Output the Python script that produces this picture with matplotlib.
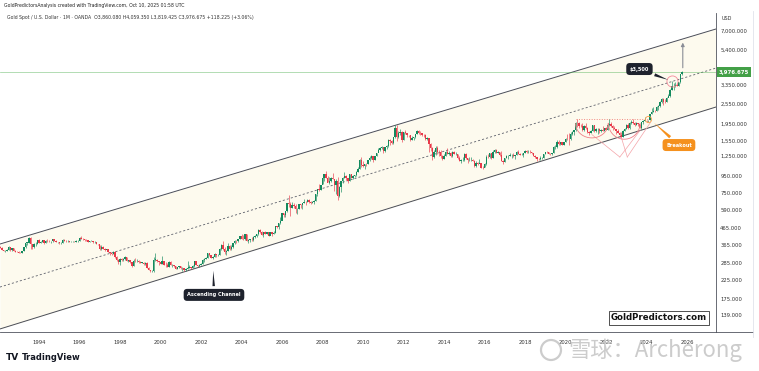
import numpy as np
import matplotlib.pyplot as plt
from matplotlib.patches import Ellipse
from matplotlib.lines import Line2D
from matplotlib.transforms import blended_transform_factory

W, H = 759, 371

# monthly candles, Jan 1992 .. Oct 2025 (USD / oz)
first_open = 353.0
close = [
    354, 353, 341, 337, 337, 343, 357, 340, 349, 339, 334, 333,
    330, 328, 337, 354, 378, 378, 401, 372, 355, 369, 371, 391,
    378, 381, 392, 377, 388, 386, 385, 386, 395, 389, 383, 383,
    375, 376, 392, 389, 385, 387, 383, 383, 384, 383, 387, 387,
    405, 400, 396, 392, 390, 382, 385, 387, 379, 379, 371, 369,
    345, 358, 348, 340, 345, 334, 326, 325, 332, 311, 296, 290,
    303, 297, 301, 310, 293, 296, 288, 273, 293, 292, 294, 288,
    287, 287, 280, 286, 268, 261, 255, 255, 299, 299, 292, 290,
    283, 293, 278, 276, 272, 288, 276, 278, 273, 264, 270, 274,
    265, 267, 258, 264, 267, 271, 266, 273, 293, 279, 275, 279,
    282, 297, 302, 308, 326, 318, 304, 312, 324, 317, 319, 347,
    368, 347, 334, 336, 361, 346, 354, 375, 388, 386, 398, 416,
    400, 396, 424, 388, 394, 394, 391, 407, 416, 428, 453, 438,
    422, 435, 428, 435, 417, 435, 429, 433, 473, 470, 495, 513,
    568, 556, 583, 654, 643, 614, 633, 623, 599, 604, 646, 632,
    650, 665, 661, 680, 659, 650, 666, 673, 742, 789, 783, 834,
    923, 971, 916, 865, 885, 928, 913, 833, 884, 718, 815, 882,
    928, 942, 916, 884, 979, 927, 954, 955, 1001, 1040, 1182, 1096,
    1081, 1117, 1113, 1180, 1213, 1244, 1181, 1247, 1307, 1357, 1386, 1421,
    1332, 1410, 1439, 1556, 1536, 1500, 1628, 1826, 1620, 1722, 1746, 1565,
    1737, 1711, 1669, 1664, 1561, 1604, 1614, 1692, 1773, 1719, 1712, 1675,
    1663, 1578, 1596, 1472, 1393, 1234, 1313, 1396, 1327, 1323, 1250, 1202,
    1244, 1326, 1284, 1296, 1250, 1327, 1282, 1287, 1210, 1171, 1183, 1184,
    1283, 1212, 1183, 1183, 1190, 1172, 1095, 1133, 1115, 1142, 1065, 1061,
    1118, 1238, 1233, 1293, 1215, 1322, 1350, 1309, 1316, 1273, 1173, 1152,
    1211, 1249, 1249, 1268, 1269, 1242, 1269, 1322, 1280, 1271, 1275, 1303,
    1345, 1318, 1325, 1315, 1299, 1253, 1224, 1201, 1192, 1215, 1222, 1282,
    1321, 1313, 1292, 1284, 1305, 1409, 1413, 1520, 1472, 1513, 1463, 1517,
    1589, 1585, 1577, 1686, 1730, 1781, 1975, 1967, 1886, 1879, 1776, 1898,
    1847, 1734, 1708, 1769, 1906, 1770, 1814, 1814, 1757, 1783, 1774, 1829,
    1796, 1909, 1937, 1897, 1837, 1807, 1766, 1711, 1660, 1633, 1768, 1824,
    1928, 1827, 1969, 1990, 1962, 1919, 1965, 1940, 1849, 1984, 2036, 2063,
    2039, 2044, 2230, 2286, 2327, 2326, 2447, 2503, 2634, 2744, 2643, 2625,
    2798, 2858, 3123, 3289, 3289, 3303, 3290, 3448, 3858, 3976.675,
]
high = [
    361, 360, 355, 343, 341, 345, 363, 358, 353, 350, 342, 338,
    335, 333, 338, 357, 378, 383, 410, 407, 370, 374, 382, 393,
    396, 387, 394, 393, 390, 396, 391, 388, 397, 398, 392, 384,
    383, 380, 395, 395, 392, 391, 389, 388, 389, 388, 391, 390,
    409, 416, 402, 397, 395, 391, 387, 392, 388, 388, 384, 372,
    368, 365, 359, 349, 347, 346, 334, 330, 337, 335, 313, 301,
    305, 305, 304, 314, 310, 299, 299, 288, 301, 306, 300, 297,
    293, 291, 291, 289, 290, 269, 261, 260, 310, 326, 302, 292,
    291, 313, 293, 290, 284, 294, 292, 280, 277, 275, 272, 275,
    274, 269, 268, 265, 292, 279, 272, 276, 293, 294, 278, 281,
    284, 302, 304, 309, 327, 328, 321, 316, 326, 323, 324, 349,
    373, 389, 356, 340, 378, 364, 366, 376, 393, 394, 399, 417,
    427, 420, 427, 428, 396, 398, 409, 416, 419, 428, 456, 457,
    443, 437, 445, 438, 438, 441, 432, 446, 474, 476, 496, 539,
    570, 573, 588, 654, 730, 659, 664, 651, 640, 610, 646, 648,
    655, 690, 671, 692, 691, 672, 673, 680, 744, 790, 845, 836,
    936, 975, 1012, 946, 937, 935, 988, 914, 906, 936, 825, 880,
    931, 1006, 963, 919, 980, 981, 963, 965, 1018, 1071, 1195, 1227,
    1162, 1126, 1135, 1180, 1249, 1265, 1238, 1252, 1310, 1388, 1424, 1431,
    1424, 1413, 1448, 1575, 1577, 1556, 1632, 1911, 1921, 1760, 1802, 1764,
    1741, 1791, 1714, 1678, 1667, 1640, 1624, 1692, 1790, 1795, 1754, 1726,
    1694, 1683, 1617, 1594, 1487, 1414, 1348, 1434, 1434, 1362, 1362, 1268,
    1280, 1332, 1392, 1331, 1315, 1332, 1345, 1311, 1290, 1255, 1205, 1238,
    1307, 1293, 1222, 1224, 1232, 1205, 1175, 1170, 1157, 1191, 1142, 1088,
    1127, 1263, 1284, 1306, 1303, 1362, 1375, 1367, 1338, 1317, 1337, 1180,
    1220, 1264, 1261, 1295, 1276, 1296, 1270, 1330, 1357, 1306, 1300, 1306,
    1366, 1361, 1356, 1365, 1326, 1310, 1266, 1221, 1214, 1243, 1237, 1284,
    1326, 1347, 1324, 1303, 1306, 1439, 1453, 1555, 1557, 1518, 1516, 1525,
    1611, 1689, 1704, 1747, 1765, 1789, 1984, 2075, 1992, 1933, 1966, 1906,
    1959, 1872, 1755, 1798, 1913, 1917, 1832, 1834, 1836, 1813, 1877, 1831,
    1853, 1974, 2070, 1998, 1910, 1879, 1814, 1807, 1735, 1729, 1786, 1833,
    1949, 1959, 2009, 2048, 2079, 1983, 1987, 1966, 1953, 2009, 2052, 2135,
    2065, 2052, 2236, 2431, 2450, 2369, 2483, 2531, 2685, 2790, 2761, 2726,
    2817, 2956, 3128, 3500, 3435, 3452, 3439, 3453, 3871, 4059.35,
]
low = [
    350, 350, 340, 335, 333, 336, 342, 336, 339, 337, 331, 332,
    326, 326, 326, 336, 353, 368, 378, 345, 347, 352, 361, 370,
    375, 376, 381, 370, 374, 381, 380, 374, 384, 387, 379, 374,
    372, 373, 376, 387, 383, 382, 382, 380, 381, 381, 382, 384,
    387, 397, 394, 389, 389, 380, 379, 385, 378, 377, 372, 367,
    341, 341, 347, 336, 339, 334, 318, 319, 322, 305, 293, 283,
    278, 293, 294, 299, 292, 291, 286, 271, 273, 290, 290, 286,
    285, 286, 278, 278, 267, 259, 252, 252, 253, 294, 290, 279,
    281, 283, 276, 272, 270, 271, 276, 271, 270, 263, 263, 268,
    262, 256, 256, 256, 264, 265, 264, 265, 271, 276, 270, 272,
    277, 283, 290, 300, 305, 313, 304, 302, 312, 312, 315, 318,
    342, 344, 322, 321, 336, 340, 343, 351, 371, 374, 380, 397,
    398, 394, 394, 385, 377, 384, 385, 389, 402, 411, 423, 431,
    418, 410, 424, 425, 415, 419, 417, 429, 431, 460, 456, 490,
    516, 538, 538, 581, 618, 543, 611, 613, 573, 561, 605, 609,
    603, 650, 637, 661, 653, 641, 649, 642, 671, 722, 775, 779,
    846, 884, 917, 867, 850, 874, 907, 775, 739, 681, 708, 758,
    857, 916, 899, 866, 883, 917, 908, 934, 952, 1002, 1043, 1075,
    1074, 1044, 1086, 1114, 1162, 1203, 1157, 1182, 1243, 1325, 1331, 1373,
    1308, 1328, 1381, 1418, 1462, 1478, 1479, 1602, 1535, 1602, 1668, 1523,
    1564, 1690, 1628, 1627, 1527, 1564, 1560, 1598, 1685, 1693, 1672, 1635,
    1627, 1555, 1562, 1322, 1338, 1180, 1207, 1271, 1291, 1251, 1221, 1182,
    1202, 1243, 1277, 1268, 1240, 1240, 1281, 1272, 1206, 1161, 1132, 1170,
    1167, 1198, 1142, 1172, 1170, 1162, 1077, 1080, 1098, 1136, 1053, 1046,
    1071, 1111, 1208, 1209, 1200, 1208, 1310, 1301, 1302, 1241, 1171, 1123,
    1146, 1208, 1194, 1243, 1215, 1237, 1204, 1266, 1278, 1261, 1262, 1236,
    1302, 1307, 1303, 1301, 1281, 1250, 1211, 1160, 1180, 1183, 1196, 1221,
    1276, 1310, 1281, 1266, 1267, 1301, 1382, 1400, 1459, 1458, 1445, 1454,
    1517, 1564, 1451, 1568, 1670, 1671, 1757, 1863, 1848, 1859, 1765, 1775,
    1803, 1717, 1677, 1705, 1766, 1750, 1750, 1687, 1722, 1746, 1758, 1753,
    1780, 1780, 1890, 1872, 1787, 1805, 1681, 1709, 1615, 1617, 1616, 1765,
    1823, 1804, 1809, 1950, 1932, 1893, 1903, 1884, 1846, 1810, 1931, 2016,
    2002, 1984, 2039, 2228, 2277, 2286, 2319, 2364, 2472, 2604, 2537, 2583,
    2615, 2833, 2833, 3121, 3121, 3248, 3268, 3269, 3403, 3819.425,
]

# ascending channel (start / end of the drawn lines)
chan_t = [1992.07, 2027.43]
chan_upper = [371, 7200]
chan_lower = [115, 2455]
chan_mid = [205, 4200]

last_price = 3976.675
yticks = [7000, 5400, 3350, 2550, 1950, 1550, 1250, 950, 750, 590, 465, 365, 285, 225, 175, 139]
xyears = list(range(1994, 2027, 2))

close = np.array(close, float)
high = np.array(high, float)
low = np.array(low, float)
opn = np.r_[first_open, close[:-1]]
t = 1992 + np.arange(len(close)) / 12.0

fig = plt.figure(figsize=(W / 100, H / 100), dpi=100)
fig.patch.set_facecolor('white')

def fx(px):
    return px / W

def fy(py):
    return 1 - py / H

ax = fig.add_axes([0, fy(332), 716 / W, (332 - 13) / H])
ax.set_yscale('log')
ax.set_xlim(1992.074, 2027.43)
ax.set_ylim(110.3, 8975)
ax.set_facecolor('white')

# channel
ax.fill_between(chan_t, chan_lower, chan_upper, color='#fdfaee', zorder=0, lw=0)
ax.plot(chan_t, chan_upper, color='#4a4d57', lw=0.7, zorder=1)
ax.plot(chan_t, chan_lower, color='#4a4d57', lw=0.7, zorder=1)
ax.plot(chan_t, chan_mid, color='#5d606b', lw=0.6, ls=(0, (2.5, 2.5)), zorder=1)

# last price line
ax.axhline(last_price, color='#4caf50', lw=0.5, alpha=0.6, zorder=1)

# candles
up = close >= opn
cols = np.where(up, '#138a5e', '#e8394a')
ax.vlines(t, low, high, colors=cols, lw=0.45, zorder=3)
body_lo = np.minimum(opn, close)
body_hi = np.maximum(opn, close)
body_hi = np.maximum(body_hi, body_lo * 1.003)
ax.bar(t, body_hi - body_lo, bottom=body_lo, width=0.07, color=cols, lw=0, zorder=4)

# pattern drawings (cup arcs and fan lines)
pink = '#f4a3a8'
ax.plot([2020.5, 2024.2], [2080, 2080], color='#f28b82', lw=0.7, ls=(0, (1, 1.6)), zorder=2)
th = np.linspace(0, np.pi, 40)
for cx, rx, top, depth in [(2021.3, 0.8, 1950, 0.085), (2022.9, 0.78, 1960, 0.095)]:
    ax.plot(cx + rx * np.cos(th), top * 10 ** (-depth * np.sin(th)), color='#ef7f86', lw=0.6, zorder=5)
for apex_t, ends in [(2022.68, [(2021.3, 1680), (2023.7, 1790)]),
                     (2023.05, [(2022.75, 1620), (2024.2, 1990)])]:
    for et, ep in ends:
        ax.plot([apex_t, et], [1232, ep], color=pink, lw=0.5, zorder=2)

# circles
ax.plot(2025.25, 3500, 'o', ms=8, mfc='none', mec='#f48a9a', mew=0.6, zorder=6)
ax.plot(2024.07, 2090, 'o', ms=4.5, mfc='none', mec='#f7a04b', mew=0.6, zorder=6)

# projection arrow
ax.annotate('', xy=(2025.79, 6200), xytext=(2025.79, 4059),
            arrowprops=dict(arrowstyle='-|>', color='#8a8d96', lw=0.8, mutation_scale=5), zorder=6)

# callouts
ax.annotate('$3,500', xy=(2025.2, 3520), xytext=(2023.65, 4145), color='white', fontsize=3.6,
            fontweight='bold', ha='center', va='center', zorder=7,
            bbox=dict(boxstyle='round,pad=0.7', fc='#1e222d', ec='none'),
            arrowprops=dict(arrowstyle='wedge,tail_width=0.6', fc='#1e222d', ec='none'))
ax.annotate('Breakout', xy=(2024.27, 2023), xytext=(2025.6, 1453), color='white', fontsize=3.6,
            fontweight='bold', ha='center', va='center', zorder=7,
            bbox=dict(boxstyle='round,pad=0.7', fc='#f5911e', ec='none'),
            arrowprops=dict(arrowstyle='wedge,tail_width=0.6', fc='#f5911e', ec='none'))
ax.annotate('Ascending Channel', xy=(2002.6, 267), xytext=(2002.64, 184), color='white', fontsize=3.6,
            fontweight='bold', ha='center', va='center', zorder=7,
            bbox=dict(boxstyle='round,pad=0.7', fc='#1e222d', ec='none'),
            arrowprops=dict(arrowstyle='wedge,tail_width=0.5', fc='#1e222d', ec='none'))

# axes styling
for s in ['top', 'left']:
    ax.spines[s].set_visible(False)
ax.spines['right'].set_color('#50535e')
ax.spines['bottom'].set_color('#50535e')
ax.spines['right'].set_linewidth(0.6)
ax.spines['bottom'].set_linewidth(0.6)
ax.yaxis.tick_right()
ax.set_yticks(yticks)
ax.set_yticklabels(['{:,.3f}'.format(v) for v in yticks])
ax.yaxis.set_minor_locator(plt.NullLocator())
ax.set_xticks(xyears)
ax.set_xticklabels([str(y) for y in xyears])
ax.tick_params(axis='y', length=0, pad=3, labelsize=3.8, labelcolor='#333333')
ax.tick_params(axis='x', length=0, pad=6, labelsize=3.8, labelcolor='#333333')

trans = blended_transform_factory(ax.transAxes, ax.transData)
ax.text(1.004, last_price, '3,976.675', transform=trans, ha='left', va='center', fontsize=3.9,
        color='white', fontweight='bold', zorder=8, clip_on=False,
        bbox=dict(boxstyle='square,pad=0.4', fc='#43a047', ec='none'))

# outer frame of the price scale
fig.add_artist(Line2D([fx(716), fx(753)], [fy(332), fy(332)], color='#50535e', lw=0.6))
fig.add_artist(Line2D([fx(753), fx(753)], [fy(11), fy(337)], color='#e0e3eb', lw=0.6))

# header / footer text
fig.text(fx(4), fy(6), 'GoldPredictorsAnalysis created with TradingView.com, Oct 10, 2025 01:58 UTC',
         fontsize=3.3, color='#222222', va='center')
fig.text(fx(7), fy(18), 'Gold Spot / U.S. Dollar · 1M · OANDA  O3,860.080 H4,059.350 L3,819.425 '
         'C3,976.675 +118.225 (+3.06%)', fontsize=3.3, color='#333333', va='center')
fig.text(fx(722), fy(19), 'USD', fontsize=3.5, color='#333333', va='center')

fig.text(fx(659), fy(318), 'GoldPredictors.com', fontsize=6.2, fontweight='bold', color='#111111',
         ha='center', va='center',
         bbox=dict(boxstyle='square,pad=0.25', fc='white', ec='#333333', lw=0.6))

fig.text(fx(6), fy(357), 'TV', fontsize=6.5, fontweight='heavy', color='#131722', va='center')
fig.text(fx(22), fy(357), 'TradingView', fontsize=6, fontweight='bold', color='#131722', va='center')

# watermark
fig.add_artist(Ellipse((fx(551), fy(350)), 20 / W, 20 / H, transform=fig.transFigure,
                       fill=False, ec='#c4c4c4', lw=1.6, alpha=0.85))
fig.text(fx(568), fy(350), '雪球：Archerong', fontsize=16, color='#c4c4c4', alpha=0.85,
         va='center', family=['Noto Sans CJK SC', 'DejaVu Sans'])

fig.savefig('out.png', dpi=100)
